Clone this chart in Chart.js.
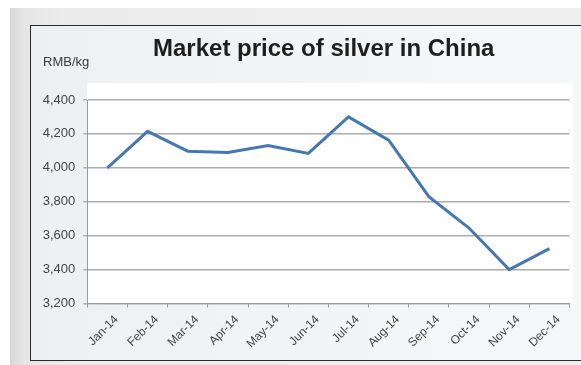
<!DOCTYPE html>
<html>
<head>
<meta charset="utf-8">
<script src="https://cdn.jsdelivr.net/npm/chart.js@4.4.1/dist/chart.umd.min.js"></script>
<style>
  html, body { margin: 0; padding: 0; width: 581px; height: 365px; overflow: hidden; background: #ffffff; }
  .backdrop {
    position: absolute; left: 10px; top: 8px; right: 0; bottom: 0;
    background: linear-gradient(to right, #d6d6d6 0px, #e6e6e6 14px, #ececec 60px, #efefef 100%);
  }
  .panel {
    position: absolute; left: 30px; top: 25px; width: 560px; height: 333.5px;
    border: 1.5px solid #2b2b2b; border-right: none;
    background: linear-gradient(to right, #eeeff0 0%, #f3f4f5 50%, #f6f7f8 100%);
  }
  canvas { position: absolute; left: 0; top: 0; }
</style>
</head>
<body>
<div class="backdrop"></div>
<div class="panel"></div>
<canvas id="c" width="581" height="365"></canvas>
<script>
// Monthly silver price in China, RMB per kg
const months = ['Jan-14', 'Feb-14', 'Mar-14', 'Apr-14', 'May-14', 'Jun-14',
                'Jul-14', 'Aug-14', 'Sep-14', 'Oct-14', 'Nov-14', 'Dec-14'];
const priceRmbPerKg = [4000, 4215, 4098, 4090, 4132, 4085, 4300, 4163, 3830, 3645, 3400, 3524];
const yTickValues = [3200, 3400, 3600, 3800, 4000, 4200, 4400];

const chartTitle = 'Market price of silver in China';
const unitLabel = 'RMB/kg';

const FONT = '"Liberation Sans", Arial, Helvetica, sans-serif';

// White plotting panel behind the grid, reaching a little above the top gridline
const plotPanel = {
  id: 'plotPanel',
  beforeDraw(chart) {
    const { ctx, chartArea: a } = chart;
    ctx.save();
    ctx.fillStyle = '#ffffff';
    ctx.fillRect(a.left, a.top - 17, a.right - a.left + 3, a.bottom - a.top + 17);
    ctx.restore();
  }
};

// Heading and unit caption
const headings = {
  id: 'headings',
  afterDraw(chart) {
    const ctx = chart.ctx;
    ctx.save();
    ctx.fillStyle = '#1e1e1e';
    ctx.font = 'bold 24px ' + FONT;
    ctx.textAlign = 'left';
    ctx.textBaseline = 'alphabetic';
    ctx.fillText(chartTitle, 153, 56);
    ctx.fillStyle = '#3a3a3a';
    ctx.font = '13px ' + FONT;
    ctx.fillText(unitLabel, 43, 66);
    ctx.restore();
  }
};

new Chart(document.getElementById('c'), {
  type: 'line',
  data: {
    labels: months,
    datasets: [{
      data: priceRmbPerKg,
      borderColor: '#4677b0',
      borderWidth: 3,
      pointRadius: 0,
      pointHoverRadius: 0,
      tension: 0,
      fill: false,
      borderJoinStyle: 'miter'
    }]
  },
  options: {
    responsive: false,
    animation: false,
    devicePixelRatio: 1,
    layout: { padding: { top: 100, right: 11.5, bottom: 0, left: 0 } },
    plugins: {
      legend: { display: false },
      title: { display: false },
      tooltip: { enabled: false }
    },
    scales: {
      x: {
        offset: true,
        grid: {
          offset: true,
          drawOnChartArea: false,
          drawTicks: true,
          tickLength: 4,
          color: '#9a9a9a',
          lineWidth: 1
        },
        border: { display: true, color: '#9a9a9a', width: 1 },
        ticks: {
          maxRotation: 45,
          minRotation: 45,
          autoSkip: false,
          padding: 5,
          labelOffset: 9,
          color: '#444444',
          font: { family: FONT, size: 12 }
        },
        afterFit(scale) { scale.height = 61.5; }
      },
      y: {
        min: 3200,
        max: 4400,
        afterBuildTicks(scale) { scale.ticks = yTickValues.map(v => ({ value: v })); },
        grid: {
          color: '#acacac',
          lineWidth: 1.5,
          tickLength: 4,
          drawTicks: true
        },
        border: { display: true, color: '#9a9a9a', width: 1 },
        ticks: {
          padding: 8,
          color: '#444444',
          font: { family: FONT, size: 13 },
          callback: v => v.toLocaleString('en-US')
        },
        afterFit(scale) { scale.width = 87.3; }
      }
    }
  },
  plugins: [plotPanel, headings]
});
</script>
</body>
</html>
